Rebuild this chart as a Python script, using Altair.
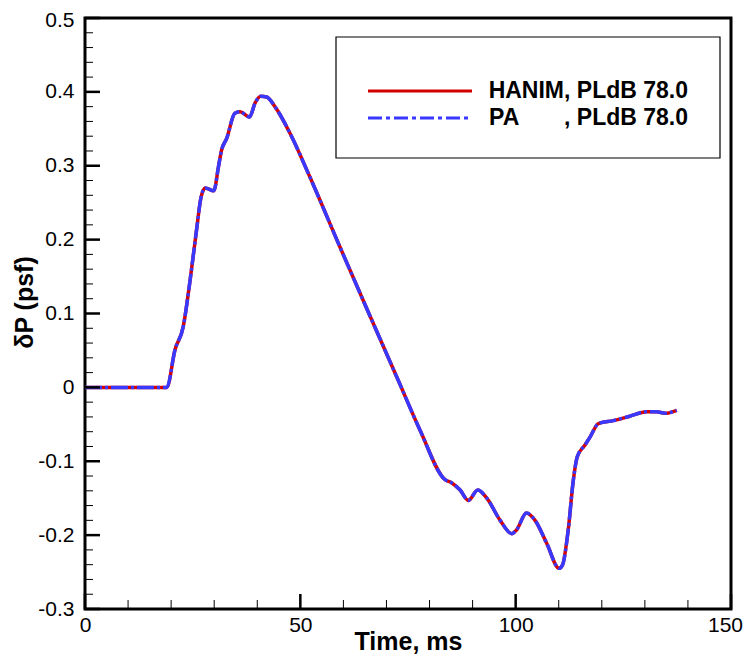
import altair as alt
import pandas as pd

# ---- data ----
time_ms = [0.0, 19.0, 20.9, 22.8, 24.4, 25.9, 26.9, 27.9, 29.9, 31.0, 31.7, 32.9,
           34.8, 36.0, 38.2, 39.5, 40.8, 42.2, 44.1, 47.6, 52.2, 59.2, 66.0,
           72.7, 77.8, 83.6, 85.1, 87.1, 89.0, 91.2, 93.3, 96.4, 99.1, 100.2,
           102.5, 104.5, 107.2, 110.1, 110.9, 112.2, 113.4, 114.3, 116.1, 117.3,
           119.2, 122.7, 126.5, 130.4, 132.7, 134.7, 137.4]
hanim_dp = [0.0, 0.0, 0.051, 0.082, 0.145, 0.213, 0.256, 0.270, 0.266, 0.299, 0.321, 0.337,
            0.371, 0.373, 0.366, 0.385, 0.394, 0.393, 0.380, 0.344, 0.285, 0.190, 0.099,
            0.010, -0.058, -0.125, -0.129, -0.139, -0.153, -0.139, -0.150, -0.180, -0.198, -0.193,
            -0.170, -0.180, -0.211, -0.245, -0.240, -0.193, -0.125, -0.094, -0.078, -0.067,
            -0.049, -0.045, -0.039, -0.033, -0.033, -0.035, -0.031]
pa_dp = [0.0, 0.0, 0.051, 0.082, 0.145, 0.213, 0.256, 0.270, 0.266, 0.299, 0.321, 0.337,
         0.371, 0.373, 0.366, 0.385, 0.394, 0.393, 0.380, 0.344, 0.285, 0.190, 0.099,
         0.010, -0.058, -0.125, -0.129, -0.139, -0.153, -0.139, -0.150, -0.180, -0.198, -0.193,
         -0.170, -0.180, -0.211, -0.245, -0.240, -0.193, -0.125, -0.094, -0.078, -0.067,
         -0.049, -0.045, -0.039, -0.033, -0.033, -0.035, -0.031]

x_major = [0, 50, 100, 150]
x_minor = [10, 20, 30, 40, 60, 70, 80, 90, 110, 120, 130, 140]
y_major = [-0.3, -0.2, -0.1, 0.0, 0.1, 0.2, 0.3, 0.4, 0.5]
y_minor = [-0.28, -0.26, -0.24, -0.22, -0.18, -0.16, -0.14, -0.12,
           -0.08, -0.06, -0.04, -0.02, 0.02, 0.04, 0.06, 0.08,
           0.12, 0.14, 0.16, 0.18, 0.22, 0.24, 0.26, 0.28,
           0.32, 0.34, 0.36, 0.38, 0.42, 0.44, 0.46, 0.48]

legend_names = ["HANIM", "PA"]
legend_suffix = ", PLdB 78.0"

RED = "#d40000"
BLUE = "#3838ff"
FONT = "Liberation Sans"

W, H = 646, 591

df_h = pd.DataFrame({"t": time_ms, "dp": hanim_dp})
df_p = pd.DataFrame({"t": time_ms, "dp": pa_dp})

xs = alt.Scale(domain=[0, 150], nice=False, zero=False)
ys = alt.Scale(domain=[-0.3, 0.5], nice=False, zero=False)

x_axis = alt.Axis(values=x_major, ticks=False, domain=False, grid=False,
                  labelFont=FONT, labelFontSize=21, labelColor="black",
                  labelPadding=5, labelFlush=False, labelOverlap=False,
                  labelOffset={"condition": {"test": "datum.value == 150", "value": -6}, "value": 0},
                  title="Time, ms", titleFont=FONT, titleFontSize=25,
                  titleFontWeight="bold", titleColor="black",
                  titleBaseline="alphabetic", titleY=40)
y_axis = alt.Axis(values=y_major, ticks=False, domain=False, grid=False,
                  labelFont=FONT, labelFontSize=21, labelColor="black",
                  labelPadding=11, labelFlush=False, labelOverlap=False,
                  labelOffset={"condition": {"test": "datum.value > 0.45", "value": 2}, "value": 0},
                  labelExpr="toString(round(datum.value*10)/10)",
                  title="δP (psf)", titleFont=FONT, titleFontSize=25,
                  titleFontWeight="bold", titleColor="black",
                  titleX=-61, titleY=284, titleBaseline="middle", titleAngle=270)

red_line = alt.Chart(df_h).mark_line(color=RED, strokeWidth=3.5, interpolate="monotone").encode(
    x=alt.X("t:Q", scale=xs, axis=x_axis),
    y=alt.Y("dp:Q", scale=ys, axis=y_axis),
)
blue_line = alt.Chart(df_p).mark_line(color=BLUE, strokeWidth=3.5, interpolate="monotone",
                                      strokeDash=[17, 3, 3, 3]).encode(
    x=alt.X("t:Q", scale=xs),
    y=alt.Y("dp:Q", scale=ys),
)

# inward ticks
xmaj = alt.Chart(pd.DataFrame({"v": x_major})).mark_rule(color="black", strokeWidth=2.5).encode(
    x=alt.X("v:Q", scale=xs), y=alt.value(H), y2=alt.value(H - 15))
xmin = alt.Chart(pd.DataFrame({"v": x_minor})).mark_rule(color="black", strokeWidth=1).encode(
    x=alt.X("v:Q", scale=xs), y=alt.value(H), y2=alt.value(H - 9))
ymaj = alt.Chart(pd.DataFrame({"v": y_major})).mark_rule(color="black", strokeWidth=2.5).encode(
    y=alt.Y("v:Q", scale=ys), x=alt.value(0), x2=alt.value(15))
ymin = alt.Chart(pd.DataFrame({"v": y_minor})).mark_rule(color="black", strokeWidth=1).encode(
    y=alt.Y("v:Q", scale=ys), x=alt.value(0), x2=alt.value(8))

# legend (drawn by hand)
leg_df = pd.DataFrame({"name": legend_names})
leg_box = alt.Chart(leg_df.head(1)).mark_rect(fill="white", stroke="black", strokeWidth=1.2).encode(
    x=alt.value(251), x2=alt.value(635), y=alt.value(19), y2=alt.value(140))
leg_red = alt.Chart(leg_df.head(1)).mark_rule(color=RED, strokeWidth=3).encode(
    x=alt.value(283), x2=alt.value(387), y=alt.value(73))
leg_blue = alt.Chart(leg_df.head(1)).mark_rule(color=BLUE, strokeWidth=3, strokeDash=[14, 4, 4, 4]).encode(
    x=alt.value(283), x2=alt.value(387), y=alt.value(100))
txt_kw = dict(font=FONT, fontSize=23, fontWeight="bold", color="black", baseline="middle")
leg_t1 = alt.Chart(leg_df.head(1)).mark_text(align="right", **txt_kw).encode(
    x=alt.value(603), y=alt.value(73), text=alt.value(legend_names[0] + legend_suffix))
leg_t2a = alt.Chart(leg_df.head(1)).mark_text(align="left", **txt_kw).encode(
    x=alt.value(404), y=alt.value(100), text=alt.value(legend_names[1]))
leg_t2b = alt.Chart(leg_df.head(1)).mark_text(align="right", **txt_kw).encode(
    x=alt.value(603), y=alt.value(100), text=alt.value(legend_suffix))

chart = alt.layer(
    red_line, blue_line, xmaj, xmin, ymaj, ymin,
    leg_box, leg_red, leg_blue, leg_t1, leg_t2a, leg_t2b,
).properties(
    width=W, height=H,
    padding={"left": 77, "top": 10, "right": 12, "bottom": 46},
    autosize=alt.AutoSizeParams(type="none"),
    background="white",
).configure_view(stroke="black", strokeWidth=3)

chart.save("out.html", embed_options={"renderer": "svg", "actions": False})
